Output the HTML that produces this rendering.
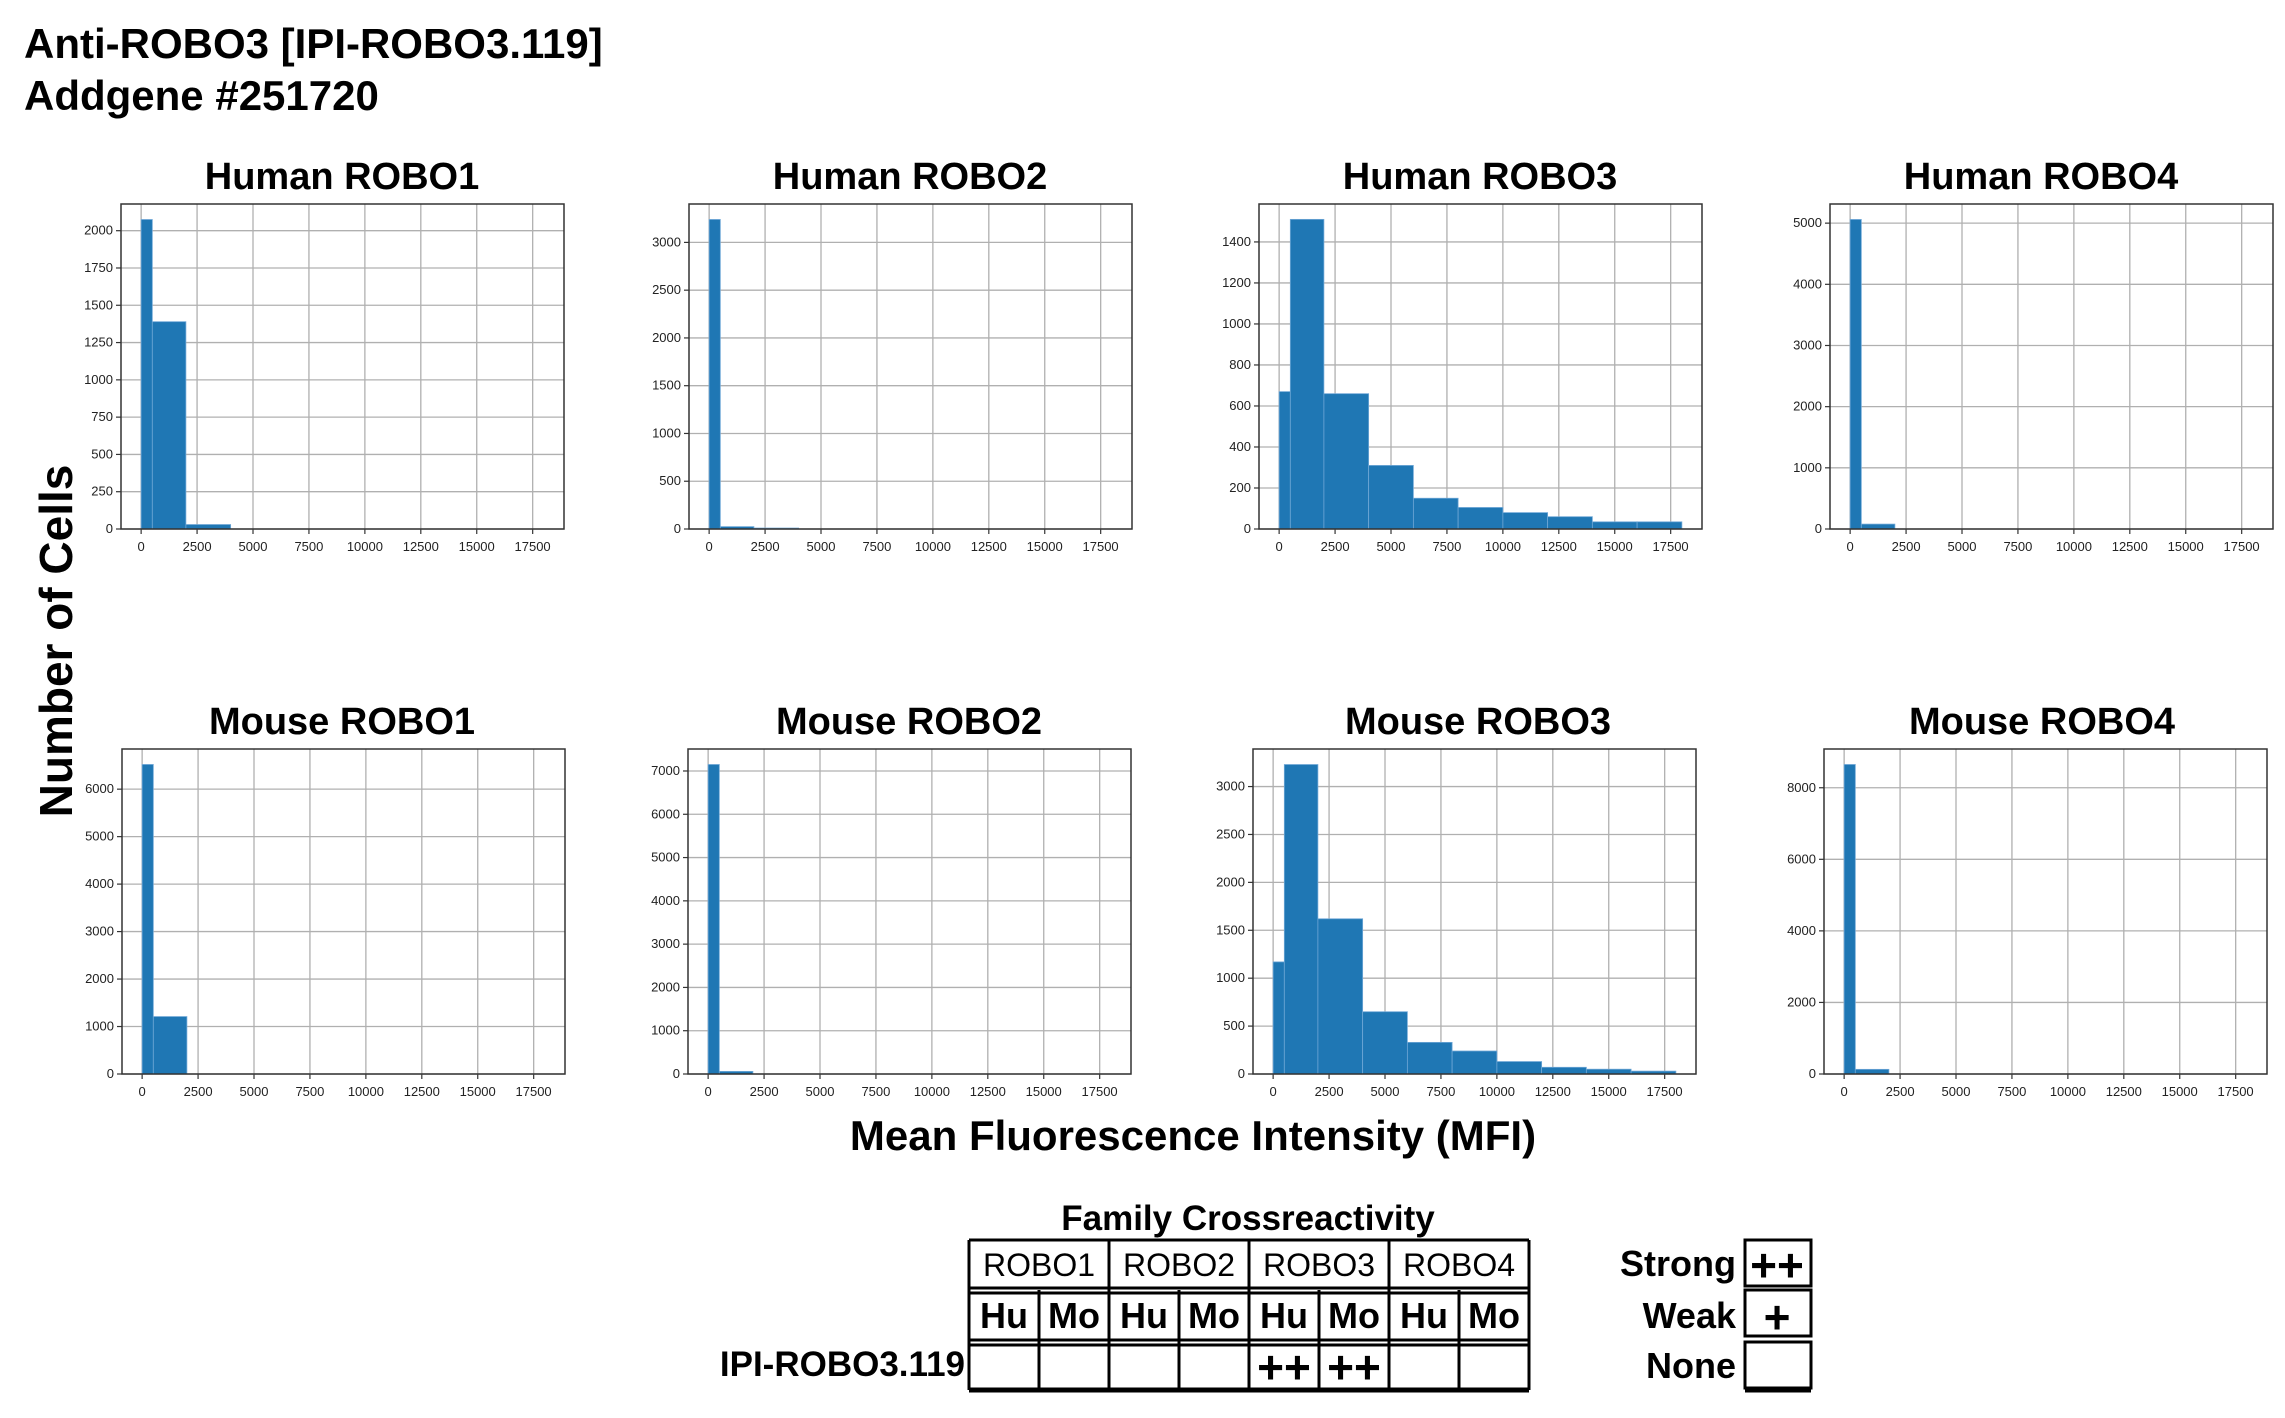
<!DOCTYPE html>
<html><head><meta charset="utf-8"><style>
html,body{margin:0;padding:0;background:#fff;}
svg{display:block;font-family:"Liberation Sans",sans-serif;}
.tk{font-size:13px;fill:#222;}
.tt{font-size:38px;fill:#000;font-weight:bold;}
</style></head><body>
<svg id="s" width="2285" height="1418" viewBox="0 0 2285 1418" xmlns="http://www.w3.org/2000/svg">
<text x="24" y="58" style="font-size:42px;font-weight:bold">Anti-ROBO3 [IPI-ROBO3.119]</text>
<text x="24" y="110" style="font-size:42px;font-weight:bold">Addgene #251720</text>
<text transform="translate(72,641) rotate(-90)" text-anchor="middle" style="font-size:46px;font-weight:bold">Number of Cells</text>
<text x="1193" y="1150" text-anchor="middle" style="font-size:42px;font-weight:bold">Mean Fluorescence Intensity (MFI)</text>

<g id="plots"></g>

<g class="tt" text-anchor="middle">
<text x="342" y="189">Human ROBO1</text>
<text x="910" y="189">Human ROBO2</text>
<text x="1480" y="189">Human ROBO3</text>
<text x="2041" y="189">Human ROBO4</text>
<text x="342" y="734">Mouse ROBO1</text>
<text x="909" y="734">Mouse ROBO2</text>
<text x="1478" y="734">Mouse ROBO3</text>
<text x="2042" y="734">Mouse ROBO4</text>
</g>

<g class="tk" text-anchor="middle">
<g transform="translate(121,529)"><text x="20.1" y="22">0</text><text x="76.1" y="22">2500</text><text x="132" y="22">5000</text><text x="187.9" y="22">7500</text><text x="243.9" y="22">10000</text><text x="299.8" y="22">12500</text><text x="355.7" y="22">15000</text><text x="411.6" y="22">17500</text></g>
<g transform="translate(689,529)"><text x="20.1" y="22">0</text><text x="76.1" y="22">2500</text><text x="132" y="22">5000</text><text x="187.9" y="22">7500</text><text x="243.9" y="22">10000</text><text x="299.8" y="22">12500</text><text x="355.7" y="22">15000</text><text x="411.6" y="22">17500</text></g>
<g transform="translate(1259,529)"><text x="20.1" y="22">0</text><text x="76.1" y="22">2500</text><text x="132" y="22">5000</text><text x="187.9" y="22">7500</text><text x="243.9" y="22">10000</text><text x="299.8" y="22">12500</text><text x="355.7" y="22">15000</text><text x="411.6" y="22">17500</text></g>
<g transform="translate(1830,529)"><text x="20.1" y="22">0</text><text x="76.1" y="22">2500</text><text x="132" y="22">5000</text><text x="187.9" y="22">7500</text><text x="243.9" y="22">10000</text><text x="299.8" y="22">12500</text><text x="355.7" y="22">15000</text><text x="411.6" y="22">17500</text></g>
<g transform="translate(122,1074)"><text x="20.1" y="22">0</text><text x="76.1" y="22">2500</text><text x="132" y="22">5000</text><text x="187.9" y="22">7500</text><text x="243.9" y="22">10000</text><text x="299.8" y="22">12500</text><text x="355.7" y="22">15000</text><text x="411.6" y="22">17500</text></g>
<g transform="translate(688,1074)"><text x="20.1" y="22">0</text><text x="76.1" y="22">2500</text><text x="132" y="22">5000</text><text x="187.9" y="22">7500</text><text x="243.9" y="22">10000</text><text x="299.8" y="22">12500</text><text x="355.7" y="22">15000</text><text x="411.6" y="22">17500</text></g>
<g transform="translate(1253,1074)"><text x="20.1" y="22">0</text><text x="76.1" y="22">2500</text><text x="132" y="22">5000</text><text x="187.9" y="22">7500</text><text x="243.9" y="22">10000</text><text x="299.8" y="22">12500</text><text x="355.7" y="22">15000</text><text x="411.6" y="22">17500</text></g>
<g transform="translate(1824,1074)"><text x="20.1" y="22">0</text><text x="76.1" y="22">2500</text><text x="132" y="22">5000</text><text x="187.9" y="22">7500</text><text x="243.9" y="22">10000</text><text x="299.8" y="22">12500</text><text x="355.7" y="22">15000</text><text x="411.6" y="22">17500</text></g>
</g>
<g class="tk" text-anchor="end">
<g transform="translate(113,533)"><text y="0">0</text><text y="-37.3">250</text><text y="-74.6">500</text><text y="-111.9">750</text><text y="-149.2">1000</text><text y="-186.5">1250</text><text y="-223.7">1500</text><text y="-261">1750</text><text y="-298.3">2000</text></g>
<g transform="translate(681,533)"><text y="0">0</text><text y="-47.8">500</text><text y="-95.5">1000</text><text y="-143.3">1500</text><text y="-191.1">2000</text><text y="-238.8">2500</text><text y="-286.6">3000</text></g>
<g transform="translate(1251,533)"><text y="0">0</text><text y="-41">200</text><text y="-82">400</text><text y="-123">600</text><text y="-164">800</text><text y="-205">1000</text><text y="-246">1200</text><text y="-287.1">1400</text></g>
<g transform="translate(1822,533)"><text y="0">0</text><text y="-61.2">1000</text><text y="-122.3">2000</text><text y="-183.5">3000</text><text y="-244.7">4000</text><text y="-305.9">5000</text></g>
<g transform="translate(114,1078)"><text y="0">0</text><text y="-47.5">1000</text><text y="-94.9">2000</text><text y="-142.4">3000</text><text y="-189.9">4000</text><text y="-237.4">5000</text><text y="-284.8">6000</text></g>
<g transform="translate(680,1078)"><text y="0">0</text><text y="-43.3">1000</text><text y="-86.6">2000</text><text y="-129.9">3000</text><text y="-173.2">4000</text><text y="-216.4">5000</text><text y="-259.7">6000</text><text y="-303">7000</text></g>
<g transform="translate(1245,1078)"><text y="0">0</text><text y="-47.9">500</text><text y="-95.8">1000</text><text y="-143.7">1500</text><text y="-191.6">2000</text><text y="-239.5">2500</text><text y="-287.4">3000</text></g>
<g transform="translate(1816,1078)"><text y="0">0</text><text y="-71.6">2000</text><text y="-143.1">4000</text><text y="-214.7">6000</text><text y="-286.2">8000</text></g>
</g>

<text x="1248" y="1230" text-anchor="middle" style="font-size:35px;font-weight:bold">Family Crossreactivity</text>
<g id="tbl" stroke="#000" stroke-width="3" fill="none"></g>
<g text-anchor="middle" style="font-size:32px">
<text x="1039" y="1276">ROBO1</text><text x="1179" y="1276">ROBO2</text><text x="1319" y="1276">ROBO3</text><text x="1459" y="1276">ROBO4</text>
</g>
<g text-anchor="middle" style="font-size:36px;font-weight:bold">
<text x="1004" y="1328">Hu</text><text x="1074" y="1328">Mo</text><text x="1144" y="1328">Hu</text><text x="1214" y="1328">Mo</text><text x="1284" y="1328">Hu</text><text x="1354" y="1328">Mo</text><text x="1424" y="1328">Hu</text><text x="1494" y="1328">Mo</text>
</g>
<g text-anchor="middle" style="font-size:46px;font-weight:bold">
<text x="1284" y="1383">++</text><text x="1354" y="1383">++</text>
<text x="1777" y="1281">++</text><text x="1777" y="1333">+</text>
</g>
<text x="965" y="1376" text-anchor="end" style="font-size:35px;font-weight:bold">IPI-ROBO3.119</text>
<g text-anchor="end" style="font-size:36px;font-weight:bold">
<text x="1736" y="1276">Strong</text><text x="1736" y="1328">Weak</text><text x="1736" y="1378">None</text>
</g>
</svg>
<script>
var NS="http://www.w3.org/2000/svg";
function el(p,t,a){var e=document.createElementNS(NS,t);for(var k in a)e.setAttribute(k,a[k]);p.appendChild(e);return e;}
var g=document.getElementById("plots");
var edges=[0,500,2000,4000,6000,8000,10000,12000,14000,16000,18000];
var P=[
[121,204,2179,250,2000,[2075,1390,30,0,0,0,0,0,0,0]],
[689,204,3402,500,3000,[3240,25,10,0,0,0,0,0,0,0]],
[1259,204,1585,200,1400,[670,1510,660,310,150,105,80,60,35,35]],
[1830,204,5313,1000,5000,[5060,80,0,0,0,0,0,0,0,0]],
[122,749,6846,1000,6000,[6520,1210,0,0,0,0,0,0,0,0]],
[688,749,7508,1000,7000,[7150,60,0,0,0,0,0,0,0,0]],
[1253,749,3392,500,3000,[1170,3230,1620,650,330,240,130,70,50,30]],
[1824,749,9083,2000,8000,[8650,130,0,0,0,0,0,0,0,0]]];
var W=443,H=325;
P.forEach(function(p){
 var L=p[0],T=p[1],B=T+H;
 function X(v){return L+(v+900)/19800*W;}
 function Y(v){return B-v/p[2]*H;}
 for(var k=0;k<8;k++){var x=X(2500*k);el(g,"line",{x1:x,x2:x,y1:T,y2:B,stroke:"#b0b0b0","stroke-width":1.3});el(g,"line",{x1:x,x2:x,y1:B,y2:B+5,stroke:"#333","stroke-width":1.2});}
 for(var v=0;v<=p[4];v+=p[3]){var y=Y(v);el(g,"line",{x1:L,x2:L+W,y1:y,y2:y,stroke:"#b0b0b0","stroke-width":1.3});el(g,"line",{x1:L-5,x2:L,y1:y,y2:y,stroke:"#333","stroke-width":1.2});}
 p[5].forEach(function(h,i){if(h<=0)return;var x1=X(edges[i]),x2=X(edges[i+1]);el(g,"rect",{x:x1,y:Y(h),width:x2-x1,height:B-Y(h),fill:"#1f77b4",stroke:"#6fa7d6","stroke-width":0.8});});
 el(g,"rect",{x:L,y:T,width:W,height:H,fill:"none",stroke:"#333","stroke-width":1.5});
});
var t=document.getElementById("tbl");
var xs=[969,1039,1109,1179,1249,1319,1389,1459,1529];
el(t,"line",{x1:969,x2:1529,y1:1240,y2:1240});
el(t,"line",{x1:969,x2:1529,y1:1288,y2:1288});el(t,"line",{x1:969,x2:1529,y1:1293,y2:1293});
el(t,"line",{x1:969,x2:1529,y1:1340,y2:1340});el(t,"line",{x1:969,x2:1529,y1:1345,y2:1345});
el(t,"line",{x1:969,x2:1529,y1:1390,y2:1390,"stroke-width":5});
xs.forEach(function(x,i){var top=(i%2==0)?1240:1290;el(t,"line",{x1:x,x2:x,y1:top,y2:1390});});
[1240,1290,1342].forEach(function(y){el(t,"rect",{x:1745,y:y,width:66,height:46});});
el(t,"line",{x1:1745,x2:1811,y1:1390,y2:1390,"stroke-width":5});
</script>
</body></html>
